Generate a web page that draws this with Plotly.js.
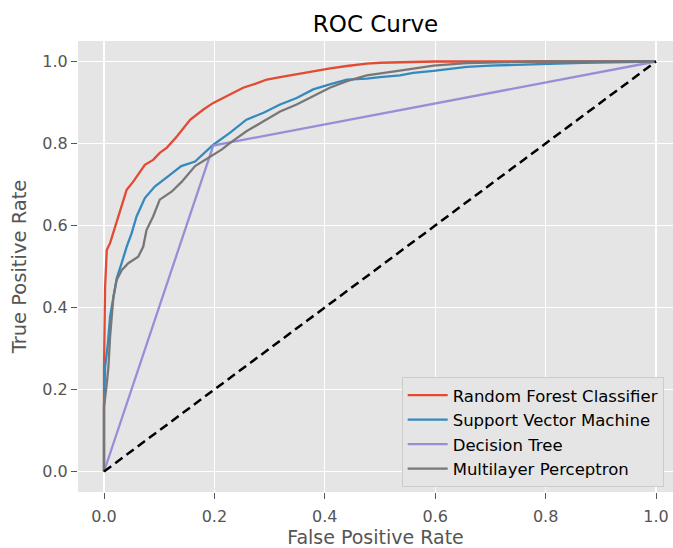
<!DOCTYPE html>
<html>
<head>
<meta charset="utf-8">
<script src="https://cdn.plot.ly/plotly-3.0.1.min.js"></script>
<style>html,body{margin:0;padding:0;background:#fff;}#chart{width:673px;height:548px;}</style>
</head>
<body>
<div id="chart"></div>
<script>
const seriesNames = ["Random Forest Classifier", "Support Vector Machine", "Decision Tree", "Multilayer Perceptron"];

const rfFpr = [0, 0, 0.002, 0.005, 0.011, 0.02, 0.029, 0.041, 0.053, 0.062, 0.074, 0.089, 0.101, 0.114, 0.132, 0.156, 0.18, 0.198, 0.21, 0.23, 0.252, 0.275, 0.295, 0.319, 0.343, 0.379, 0.41, 0.44, 0.476, 0.5, 0.6, 1.0];
const rfTpr = [0, 0.25, 0.45, 0.54, 0.557, 0.597, 0.638, 0.687, 0.707, 0.725, 0.748, 0.76, 0.777, 0.79, 0.817, 0.858, 0.883, 0.899, 0.907, 0.92, 0.936, 0.946, 0.956, 0.962, 0.968, 0.977, 0.983, 0.989, 0.995, 0.997, 1.0, 1.0];

const svmFpr = [0, 0, 0.002, 0.007, 0.011, 0.017, 0.023, 0.032, 0.041, 0.05, 0.059, 0.074, 0.092, 0.116, 0.14, 0.165, 0.189, 0.198, 0.228, 0.258, 0.289, 0.319, 0.349, 0.379, 0.409, 0.44, 0.476, 0.5, 0.536, 0.56, 0.597, 0.657, 0.7, 0.777, 0.868, 1.0];
const svmTpr = [0, 0.157, 0.255, 0.312, 0.377, 0.426, 0.471, 0.508, 0.548, 0.581, 0.622, 0.667, 0.695, 0.72, 0.745, 0.756, 0.785, 0.797, 0.826, 0.858, 0.875, 0.895, 0.911, 0.932, 0.944, 0.956, 0.958, 0.962, 0.966, 0.972, 0.977, 0.987, 0.99, 0.994, 0.997, 1.0];

const dtFpr = [0, 0.198, 1.0];
const dtTpr = [0, 0.795, 1.0];

const mlpFpr = [0, 0, 0.005, 0.008, 0.011, 0.014, 0.017, 0.023, 0.032, 0.044, 0.062, 0.071, 0.077, 0.089, 0.101, 0.123, 0.141, 0.165, 0.195, 0.213, 0.228, 0.258, 0.289, 0.319, 0.349, 0.379, 0.409, 0.44, 0.476, 0.536, 0.597, 0.657, 0.777, 1.0];
const mlpTpr = [0, 0.157, 0.214, 0.255, 0.328, 0.377, 0.426, 0.467, 0.491, 0.508, 0.524, 0.548, 0.589, 0.622, 0.663, 0.683, 0.707, 0.745, 0.769, 0.785, 0.801, 0.83, 0.854, 0.878, 0.895, 0.915, 0.936, 0.952, 0.966, 0.978, 0.99, 0.996, 1.0, 1.0];

const chanceX = [0, 1];
const chanceY = [0, 1];

const tickVals = [0, 0.2, 0.4, 0.6, 0.8, 1.0];
const tickText = ["0.0", "0.2", "0.4", "0.6", "0.8", "1.0"];

const colors = ["#E24A33", "#348ABD", "#988ED5", "#777777"];
const xs = [rfFpr, svmFpr, dtFpr, mlpFpr];
const ys = [rfTpr, svmTpr, dtTpr, mlpTpr];

const traces = seriesNames.map((n, i) => ({
  x: xs[i], y: ys[i], name: n, type: "scatter", mode: "lines",
  line: {color: colors[i], width: 2.3}
}));
traces.push({x: chanceX, y: chanceY, type: "scatter", mode: "lines", showlegend: false,
  line: {color: "#000000", width: 2.5, dash: "9px,5px"}});

const font = "DejaVu Sans, sans-serif";
const axisCommon = {
  showgrid: true, gridcolor: "#ffffff", gridwidth: 1.2, zeroline: false,
  showline: false, ticks: "outside", ticklen: 6, tickwidth: 1, tickcolor: "#555555",
  tickfont: {family: font, size: 16, color: "#555555"},
  tickvals: tickVals, ticktext: tickText, fixedrange: true
};

const layout = {
  width: 673, height: 548,
  margin: {l: 78, r: 0, t: 41, b: 56},
  paper_bgcolor: "#ffffff", plot_bgcolor: "#E5E5E5",
  font: {family: font},
  title: {text: "ROC Curve", font: {family: font, size: 23, color: "#000000"},
    x: 0.5, xref: "paper", y: 0.956, yanchor: "middle"},
  xaxis: Object.assign({}, axisCommon, {
    range: [-0.0471, 1.0308],
    ticklabelstandoff: 4,
    title: {text: "False Positive Rate", font: {family: font, size: 19, color: "#555555"}, standoff: 10}
  }),
  yaxis: Object.assign({}, axisCommon, {
    range: [-0.05, 1.05],
    title: {text: "True Positive Rate", font: {family: font, size: 19.5, color: "#555555"}, standoff: 10}
  }),
  legend: {
    x: 0.544, y: 0.255, xanchor: "left", yanchor: "top",
    bgcolor: "#E5E5E5", bordercolor: "#CCCCCC", borderwidth: 1,
    font: {family: font, size: 16.5, color: "#000000"},
    itemwidth: 40, tracegroupgap: 0
  },
  showlegend: true
};

Plotly.newPlot("chart", traces, layout, {displayModeBar: false, staticPlot: true});
</script>
</body>
</html>
